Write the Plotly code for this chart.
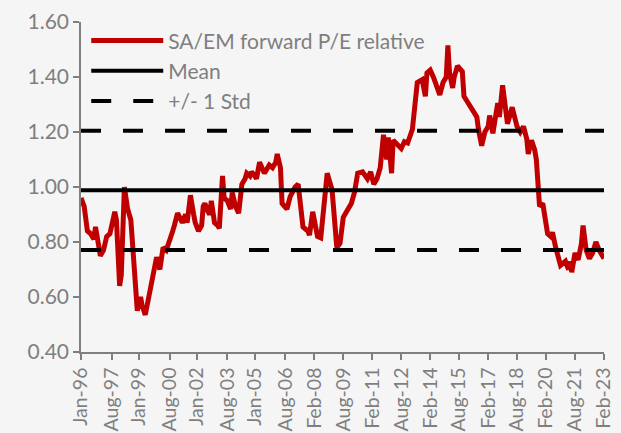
import plotly.graph_objects as go

dates = [
    "1996-01", "1996-03", "1996-05", "1996-07", "1996-09", "1996-10", "1997-01", "1997-03", "1997-05", "1997-07",
    "1997-10", "1997-11", "1998-01", "1998-02", "1998-04", "1998-06", "1998-08", "1998-10", "1998-12", "1999-02",
    "1999-03", "1999-05", "1999-07", "1999-09", "1999-11", "1999-12", "2000-02", "2000-04", "2000-06", "2000-08",
    "2000-10", "2000-11", "2001-01", "2001-04", "2001-06", "2001-07", "2001-09", "2001-11", "2001-12", "2002-02",
    "2002-04", "2002-05", "2002-06", "2002-08", "2002-09", "2002-10", "2002-12", "2003-02", "2003-03", "2003-05",
    "2003-06", "2003-08", "2003-10", "2003-11", "2004-01", "2004-03", "2004-05", "2004-07", "2004-08", "2004-10",
    "2004-11", "2005-01", "2005-02", "2005-04", "2005-06", "2005-07", "2005-09", "2005-10", "2005-12", "2006-02",
    "2006-03", "2006-05", "2006-06", "2006-09", "2006-11", "2007-02", "2007-04", "2007-07", "2007-10", "2007-11",
    "2008-01", "2008-04", "2008-06", "2008-07", "2008-10", "2009-01", "2009-03", "2009-04", "2009-06", "2009-08",
    "2009-10", "2010-01", "2010-03", "2010-05", "2010-08", "2010-11", "2011-01", "2011-03", "2011-05", "2011-07",
    "2011-09", "2011-11", "2011-12", "2012-02", "2012-03", "2012-05", "2012-08", "2012-10", "2012-12", "2013-03",
    "2013-05", "2013-06", "2013-09", "2013-11", "2013-12", "2014-02", "2014-04", "2014-06", "2014-08", "2014-10",
    "2014-12", "2015-01", "2015-02", "2015-04", "2015-05", "2015-07", "2015-10", "2015-11", "2016-01", "2016-03",
    "2016-05", "2016-07", "2016-08", "2016-10", "2016-12", "2017-02", "2017-03", "2017-05", "2017-08", "2017-09",
    "2017-11", "2018-01", "2018-02", "2018-05", "2018-08", "2018-10", "2018-12", "2019-02", "2019-03", "2019-05",
    "2019-07", "2019-08", "2019-09", "2019-10", "2019-12", "2020-01", "2020-03", "2020-05", "2020-06", "2020-08",
    "2020-10", "2020-11", "2021-02", "2021-04", "2021-05", "2021-06", "2021-08", "2021-10", "2021-12", "2022-01",
    "2022-03", "2022-05", "2022-07", "2022-09", "2022-11", "2023-01", "2023-02",
]

pe_relative = [
    0.96, 0.93, 0.84, 0.83, 0.81, 0.855, 0.75, 0.77, 0.82, 0.83,
    0.91, 0.88, 0.64, 0.68, 1.00, 0.92, 0.88, 0.70, 0.55, 0.60,
    0.57, 0.535, 0.60, 0.67, 0.72, 0.745, 0.70, 0.78, 0.77, 0.80,
    0.84, 0.86, 0.905, 0.87, 0.90, 0.87, 0.97, 0.90, 0.87, 0.84,
    0.86, 0.93, 0.94, 0.91, 0.90, 0.95, 0.87, 0.86, 0.85, 1.04,
    0.96, 0.95, 0.92, 0.98, 0.93, 0.905, 1.01, 1.03, 1.05, 1.04,
    1.055, 1.04, 1.03, 1.09, 1.06, 1.05, 1.07, 1.08, 1.07, 1.09,
    1.12, 1.07, 0.94, 0.92, 0.965, 1.00, 1.01, 0.855, 0.84, 0.825,
    0.91, 0.82, 0.815, 0.87, 1.05, 0.99, 0.86, 0.78, 0.795, 0.89,
    0.91, 0.94, 0.98, 1.05, 1.055, 1.03, 1.055, 1.01, 1.03, 1.07,
    1.19, 1.10, 1.18, 1.05, 1.17, 1.16, 1.14, 1.165, 1.16, 1.21,
    1.335, 1.38, 1.39, 1.33, 1.415, 1.425, 1.40, 1.37, 1.335, 1.38,
    1.40, 1.515, 1.415, 1.36, 1.40, 1.44, 1.42, 1.33, 1.31, 1.29,
    1.27, 1.255, 1.21, 1.15, 1.20, 1.22, 1.26, 1.195, 1.305, 1.255,
    1.37, 1.26, 1.23, 1.29, 1.22, 1.20, 1.22, 1.175, 1.12, 1.17,
    1.135, 1.10, 0.97, 0.93, 0.94, 0.905, 0.83, 0.82, 0.835, 0.78,
    0.735, 0.715, 0.73, 0.70, 0.73, 0.69, 0.76, 0.735, 0.795, 0.86,
    0.77, 0.74, 0.76, 0.80, 0.77, 0.745, 0.74,
]

mean_value = 0.988
std_value = 0.217

tick_dates = [
    "1996-01", "1997-08", "1999-01", "2000-08", "2002-01", "2003-08", "2005-01", "2006-08", "2008-02",
    "2009-08", "2011-02", "2012-08", "2014-02", "2015-08", "2017-02", "2018-08", "2020-02", "2021-08", "2023-02",
]
tick_labels = [
    "Jan-96", "Aug-97", "Jan-99", "Aug-00", "Jan-02", "Aug-03", "Jan-05", "Aug-06", "Feb-08",
    "Aug-09", "Feb-11", "Aug-12", "Feb-14", "Aug-15", "Feb-17", "Aug-18", "Feb-20", "Aug-21", "Feb-23",
]

x_ends = [dates[0], dates[-1]]
FONT = "Lato, 'Open Sans', sans-serif"
GREY = "#7f7f7f"

fig = go.Figure()
fig.add_trace(go.Scatter(
    x=dates, y=pe_relative, mode="lines", name="SA/EM forward P/E relative",
    line=dict(color="#c00000", width=5),
))
fig.add_trace(go.Scatter(
    x=x_ends, y=[mean_value, mean_value], mode="lines", name="Mean",
    line=dict(color="black", width=4),
))
fig.add_trace(go.Scatter(
    x=x_ends, y=[mean_value + std_value] * 2, mode="lines", name="+/- 1 Std",
    line=dict(color="black", width=4, dash="20px,22px"), legendgroup="std",
))
fig.add_trace(go.Scatter(
    x=x_ends, y=[mean_value - std_value] * 2, mode="lines", name="+/- 1 Std",
    line=dict(color="black", width=4, dash="20px,22px"), legendgroup="std", showlegend=False,
))

fig.update_layout(
    width=621, height=433,
    margin=dict(l=81, r=17, t=22, b=81, autoexpand=False),
    paper_bgcolor="#f5f5f5", plot_bgcolor="#f5f5f5",
    font=dict(family=FONT, size=21, color=GREY),
    showlegend=True,
    legend=dict(
        x=0.01, y=1.005, xanchor="left", yanchor="top",
        bgcolor="rgba(0,0,0,0)", font=dict(size=21, color=GREY),
        itemwidth=72, tracegroupgap=0,
    ),
)
fig.update_xaxes(
    type="date", range=[dates[0], dates[-1]], automargin=False,
    tickmode="array", tickvals=tick_dates, ticktext=tick_labels, tickangle=-90,
    showgrid=False, zeroline=False, showline=True, linecolor=GREY, linewidth=1.5,
    ticks="outside", ticklen=6, tickcolor=GREY, tickwidth=1.5,
    tickfont=dict(size=19.5, color=GREY),
)
fig.update_yaxes(
    range=[0.4, 1.6], dtick=0.2, tick0=0.4, tickformat=".2f", automargin=False,
    showgrid=False, zeroline=False, showline=True, linecolor=GREY, linewidth=1.5,
    ticks="outside", ticklen=6, tickcolor=GREY, tickwidth=1.5,
    tickfont=dict(size=21, color=GREY),
)

fig.write_html(
    "out.html",
    config={"displayModeBar": False},
    post_script="document.body.style.margin='0';document.body.style.background='#f5f5f5';",
)
